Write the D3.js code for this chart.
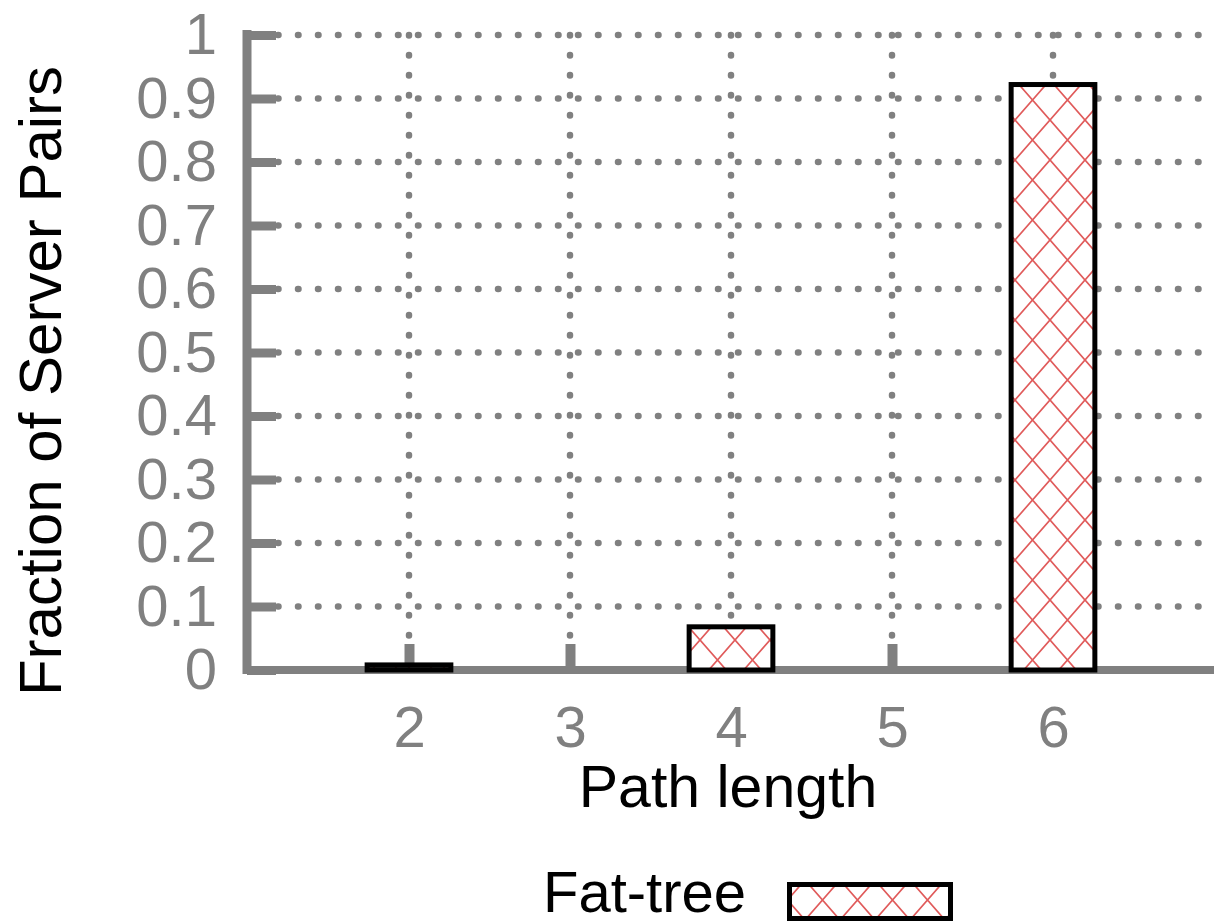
<!DOCTYPE html>
<html>
<head>
<meta charset="utf-8">
<script src="https://cdn.jsdelivr.net/npm/d3@7"></script>
<style>
    body { margin: 0; background: #fff; }
    text { font-family: "Liberation Sans", Arial, sans-serif; }
</style>
</head>
<body>
<div id="chart"></div>
<script>
const ctx = {
    W: 1214,
    H: 924,
    GRAY: "#808080",
};

// data
const pathLengths = [2, 4, 6];
const fractions = [0.008, 0.068, 0.922];
const xTicks = [2, 3, 4, 5, 6];
const yTicks = [0, 0.1, 0.2, 0.3, 0.4, 0.5, 0.6, 0.7, 0.8, 0.9, 1];
const yTickLabels = ["0", "0.1", "0.2", "0.3", "0.4", "0.5", "0.6", "0.7", "0.8", "0.9", "1"];
const seriesName = "Fat-tree";

function createViz() {
    const svg = d3.select("#chart").append("svg")
                  .attr("width", ctx.W)
                  .attr("height", ctx.H);

    const x = d3.scaleLinear().domain([1, 7]).range([248, 1214]);
    const y = d3.scaleLinear().domain([0, 1]).range([670, 35]);

    // hatch pattern
    const pat = svg.append("defs").append("pattern")
                   .attr("id", "hatch")
                   .attr("patternUnits", "userSpaceOnUse")
                   .attr("width", 35)
                   .attr("height", 40);
    pat.append("rect").attr("width", 35).attr("height", 40).attr("fill", "#fff");
    pat.append("path")
       .attr("d", "M0,0L35,40M35,0L0,40M-17.5,20L0,40M35,0L52.5,20")
       .attr("stroke", "#e05a5a")
       .attr("stroke-width", 1.7)
       .attr("fill", "none");

    // dotted grid
    const grid = svg.append("g");
    grid.selectAll("line.h")
        .data(yTicks.filter(d => d > 0))
        .enter()
        .append("line")
        .attr("x1", x(1) + 30)
        .attr("x2", ctx.W)
        .attr("y1", d => y(d))
        .attr("y2", d => y(d));
    grid.selectAll("line.v")
        .data(xTicks)
        .enter()
        .append("line")
        .attr("x1", d => x(d))
        .attr("x2", d => x(d))
        .attr("y1", y(1))
        .attr("y2", y(0) - 28);
    grid.selectAll("line")
        .attr("stroke", ctx.GRAY)
        .attr("stroke-width", 6.5)
        .attr("stroke-linecap", "round")
        .attr("stroke-dasharray", "0.5,19.5");

    // axes
    const yAxis = svg.append("g")
                     .attr("transform", `translate(${x(1) - 1},0)`)
                     .call(d3.axisLeft(y)
                             .tickValues(yTicks)
                             .tickFormat((d, i) => yTickLabels[i])
                             .tickSize(-29)
                             .tickPadding(30));

    const xAxis = svg.append("g")
                     .attr("transform", `translate(0,${y(0)})`)
                     .call(d3.axisBottom(x)
                             .tickValues(xTicks)
                             .tickFormat(d => d)
                             .tickSize(-26)
                             .tickPadding(36));

    [yAxis, xAxis].forEach(a => {
        a.select(".domain").remove();
        a.selectAll(".tick line").attr("stroke", ctx.GRAY).attr("stroke-width", 9);
        a.selectAll(".tick text")
         .attr("fill", ctx.GRAY)
         .style("font-size", "58px")
         .style("font-family", "'Liberation Sans', Arial, sans-serif");
    });
    xAxis.selectAll(".tick line").attr("stroke-width", 10);

    // thick axis lines
    svg.append("line")
       .attr("x1", x(1) - 1).attr("x2", x(1) - 1)
       .attr("y1", y(1) - 5).attr("y2", y(0) + 4)
       .attr("stroke", ctx.GRAY).attr("stroke-width", 9);
    svg.append("line")
       .attr("x1", x(1) - 5).attr("x2", ctx.W)
       .attr("y1", y(0)).attr("y2", y(0))
       .attr("stroke", ctx.GRAY).attr("stroke-width", 8);

    // bars
    const bw = 0.52;
    svg.append("g")
       .selectAll("rect")
       .data(pathLengths)
       .enter()
       .append("rect")
       .attr("x", d => x(d - bw / 2))
       .attr("width", x(1 + bw) - x(1))
       .attr("y", (d, i) => y(fractions[i]))
       .attr("height", (d, i) => y(0) - y(fractions[i]))
       .attr("fill", "url(#hatch)")
       .attr("stroke", "#000")
       .attr("stroke-width", 5);

    // axis titles
    svg.append("text")
       .attr("x", 728)
       .attr("y", 807)
       .attr("text-anchor", "middle")
       .style("font-size", "59px")
       .text("Path length");

    svg.append("text")
       .attr("transform", "translate(61,381) rotate(-90)")
       .attr("text-anchor", "middle")
       .style("font-size", "60px")
       .text("Fraction of Server Pairs");

    // legend
    svg.append("text")
       .attr("x", 543)
       .attr("y", 912)
       .style("font-size", "58px")
       .text(seriesName);
    svg.append("rect")
       .attr("x", 789.5)
       .attr("y", 884.5)
       .attr("width", 161)
       .attr("height", 34)
       .attr("fill", "url(#hatch)")
       .attr("stroke", "#000")
       .attr("stroke-width", 5);
}

createViz();
</script>
</body>
</html>
